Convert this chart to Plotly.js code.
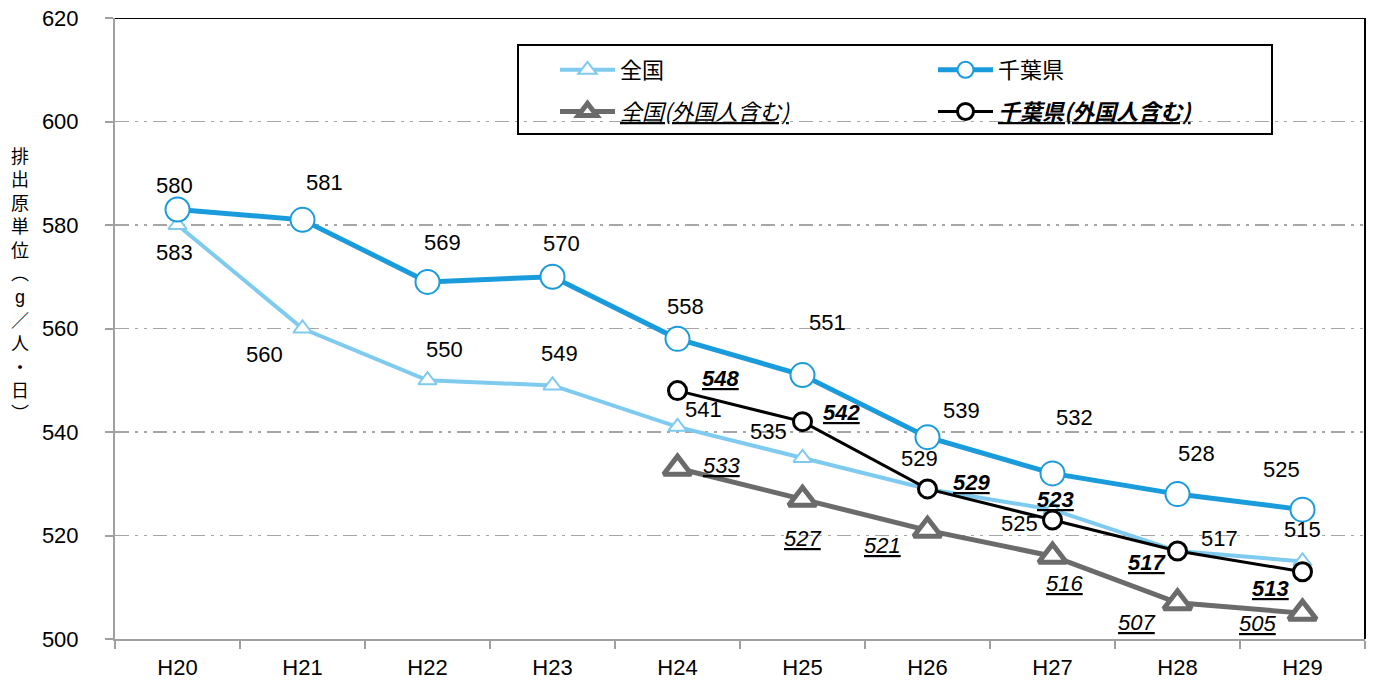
<!DOCTYPE html>
<html>
<head>
<meta charset="utf-8">
<script src="https://cdn.plot.ly/plotly-3.0.1.min.js"></script>
<style>
  html, body { margin: 0; padding: 0; background: #fff; }
  #chart { width: 1381px; height: 681px; }
</style>
</head>
<body>
<div id="chart"></div>
<script>
// 年度（平成）
const years = ['H20', 'H21', 'H22', 'H23', 'H24', 'H25', 'H26', 'H27', 'H28', 'H29'];
const yearsForeign = ['H24', 'H25', 'H26', 'H27', 'H28', 'H29'];

// 排出原単位（g／人・日）
const national = [580, 560, 550, 549, 541, 535, 529, 525, 517, 515];
const chiba = [583, 581, 569, 570, 558, 551, 539, 532, 528, 525];
const nationalForeign = [533, 527, 521, 516, 507, 505];
const chibaForeign = [548, 542, 529, 523, 517, 513];

const seriesNames = ['全国', '千葉県', '全国(外国人含む)', '千葉県(外国人含む)'];

// label offsets in px from each point [dx, dy] (dy positive = downward)
const nationalLabelOff = [[-3, -40], [-38, 26], [17, -31], [7, -32], [26, -17], [-34, -26], [-8, -30], [-33, 14], [42, -13], [0, -32]];
const chibaLabelOff = [[-3, 43], [22, -37], [15, -39], [9, -33], [8, -32], [25, -53], [34, -27], [22, -56], [19, -41], [-21, -40]];
const nationalForeignLabelOff = [[44, -3], [0, 39], [-45, 15], [12, 27], [-41, 20], [-45, 10]];
const chibaForeignLabelOff = [[43, -12], [39, -9], [44, -6], [3, -20], [-31, 11], [-32, 17]];

const FONT = '"Liberation Sans", Arial, "Noto Sans CJK JP", sans-serif';
const JP = '"Noto Sans CJK JP", "Liberation Sans", sans-serif';

// two legend columns: 全国 series left, 千葉県 series right
const traces = [
  {
    x: years, y: national, name: seriesNames[0], type: 'scatter', mode: 'lines+markers',
    legend: 'legend', legendgroup: 'g1',
    line: { color: '#7ECBEF', width: 4 },
    marker: { symbol: 'triangle-up', size: 16, color: '#ffffff', line: { color: '#7ECBEF', width: 2 } }
  },
  {
    x: years, y: chiba, name: seriesNames[1], type: 'scatter', mode: 'lines+markers',
    legend: 'legend2', legendgroup: 'g2',
    line: { color: '#1A9BDB', width: 5 },
    marker: { symbol: 'circle', size: 24, color: '#ffffff', line: { color: '#1A9BDB', width: 2 } }
  },
  {
    x: yearsForeign, y: nationalForeign, name: '<i><u>' + seriesNames[2] + '</u></i>', type: 'scatter', mode: 'lines+markers',
    legend: 'legend', legendgroup: 'g3',
    line: { color: '#6B6B6B', width: 5 },
    marker: { symbol: 'triangle-up', size: 24, color: '#ffffff', line: { color: '#6B6B6B', width: 5 } }
  },
  {
    x: yearsForeign, y: chibaForeign, name: '<b><i><u>' + seriesNames[3] + '</u></i></b>', type: 'scatter', mode: 'lines+markers',
    legend: 'legend2', legendgroup: 'g4',
    line: { color: '#000000', width: 3 },
    marker: { symbol: 'circle', size: 18, color: '#ffffff', line: { color: '#000000', width: 3 } }
  }
];

// value labels
const annotations = [];
function addLabels(xs, ys, offs, wrap) {
  xs.forEach((x, i) => {
    annotations.push({
      x: x, y: ys[i], xref: 'x', yref: 'y',
      text: wrap(String(ys[i])), showarrow: false,
      xshift: offs[i][0], yshift: -offs[i][1],
      font: { family: FONT, size: 22, color: '#000' }
    });
  });
}
addLabels(years, national, nationalLabelOff, t => t);
addLabels(years, chiba, chibaLabelOff, t => t);
addLabels(yearsForeign, nationalForeign, nationalForeignLabelOff, t => '<i><u>' + t + '</u></i>');
addLabels(yearsForeign, chibaForeign, chibaForeignLabelOff, t => '<b><i><u>' + t + '</u></i></b>');

// vertical axis title, one upright character per line
const yTitleChars = ['排', '出', '原', '単', '位', '︵', 'g', '／', '人', '・', '日', '︶'];
annotations.push({
  x: -0.076, xref: 'paper', xanchor: 'center',
  y: (639 - 285) / 621, yref: 'paper', yanchor: 'middle',
  text: yTitleChars.join('<br>'), showarrow: false, align: 'center',
  font: { family: FONT, size: 18, color: '#000' }
});

const legendCommon = {
  orientation: 'v',
  yanchor: 'top', xanchor: 'left',
  y: 0.950,
  bgcolor: 'rgba(0,0,0,0)', borderwidth: 0,
  font: { family: JP, size: 22, color: '#000' },
  itemwidth: 55,
  traceorder: 'grouped',
  tracegroupgap: 10
};

const layout = {
  width: 1381, height: 681,
  margin: { l: 115, r: 16, t: 18, b: 42, pad: 0 },
  paper_bgcolor: '#ffffff', plot_bgcolor: '#ffffff',
  font: { family: FONT, size: 22, color: '#000' },
  showlegend: true,
  legend: Object.assign({}, legendCommon, { x: 0.352 }),
  legend2: Object.assign({}, legendCommon, { x: 0.6544 }),
  xaxis: {
    type: 'category', range: [-0.5, 9.5],
    showgrid: false, zeroline: false,
    showline: true, linecolor: '#A0A0A0', linewidth: 2,
    ticks: 'outside', tickson: 'boundaries', ticklen: 8, tickcolor: '#A0A0A0', tickwidth: 2,
    tickfont: { family: FONT, size: 22, color: '#000' },
    ticklabelstandoff: 8,
    fixedrange: true
  },
  yaxis: {
    range: [500, 620], dtick: 20, tick0: 500,
    showgrid: true, gridcolor: '#A6A6A6', gridwidth: 1.5,
    griddash: '14px,6px,3px,6px,3px,6px',
    zeroline: false,
    showline: true, linecolor: '#A0A0A0', linewidth: 2,
    ticks: 'outside', ticklen: 8, tickcolor: '#A0A0A0', tickwidth: 2,
    tickfont: { family: FONT, size: 22, color: '#000' },
    ticklabelstandoff: 22,
    fixedrange: true
  },
  shapes: [
    // plot frame top and right
    { type: 'line', xref: 'paper', yref: 'y', x0: 0, x1: 1, y0: 620, y1: 620, line: { color: '#000', width: 2 } },
    { type: 'line', xref: 'paper', yref: 'paper', x0: 1, x1: 1, y0: 0, y1: 1, line: { color: '#000', width: 2 } },
    // legend frame around both columns
    { type: 'rect', xref: 'paper', yref: 'paper', x0: 0.3224, x1: 0.9256, y0: 0.8132, y1: 0.9565,
      line: { color: '#000', width: 2 }, fillcolor: 'rgba(0,0,0,0)', layer: 'above' }
  ],
  annotations: annotations
};

Plotly.newPlot('chart', traces, layout, { displayModeBar: false, staticPlot: true });
</script>
</body>
</html>
